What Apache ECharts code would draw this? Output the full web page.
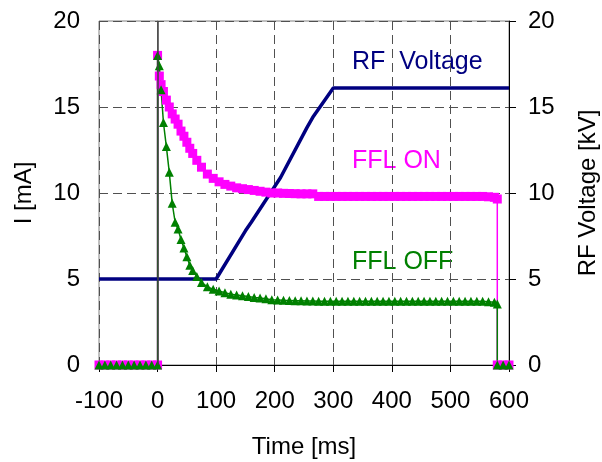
<!DOCTYPE html>
<html>
<head>
<meta charset="utf-8">
<script src="https://cdn.jsdelivr.net/npm/echarts@6/dist/echarts.min.js"></script>
<style>
  html, body { margin: 0; padding: 0; background: #fff; overflow: hidden; }
  #chart { width: 602px; height: 462px; }
</style>
</head>
<body>
<div id="chart"></div>
<script>
// time axis (ms) shared by the two current traces
var timeMs = [-100, -90, -80, -70, -60, -50, -40, -30, -20, -10, 0,
    0, 3, 6, 10, 15, 20, 25, 30, 35, 40, 45, 50, 55, 60, 67, 75,
    85, 95, 105, 115, 125, 135, 145, 155, 165, 175, 185, 195,
    205, 215, 225, 235, 245, 255, 265,
    275, 285, 295, 305, 315, 325, 335, 345, 355, 365, 375, 385, 395, 405, 415,
    425, 435, 445, 455, 465, 475, 485, 495, 505, 515, 525, 535, 545, 555, 565, 575,
    580, 580, 590, 600];

// FFL ON current [mA]
var fflOn = [0, 0, 0, 0, 0, 0, 0, 0, 0, 0, 0,
    18.0, 16.8, 16.3, 15.9, 15.4, 15.0, 14.6, 14.3, 14.0, 13.6, 13.3, 12.95, 12.6, 12.3, 11.9, 11.5,
    11.1, 10.85, 10.65, 10.5, 10.4, 10.3, 10.25, 10.2, 10.15, 10.1, 10.05, 10.0,
    10.0, 9.98, 9.97, 9.96, 9.95, 9.95, 9.95,
    9.8, 9.8, 9.8, 9.8, 9.8, 9.8, 9.8, 9.8, 9.8, 9.8, 9.8, 9.8, 9.8, 9.8, 9.8,
    9.8, 9.8, 9.8, 9.8, 9.8, 9.8, 9.8, 9.8, 9.8, 9.8, 9.8, 9.8, 9.8, 9.8, 9.78, 9.75,
    9.65, 0, 0, 0];

// FFL OFF current [mA]
var fflOff = [0, 0, 0, 0, 0, 0, 0, 0, 0, 0, 0,
    18.0, 17.4, 16.0, 14.1, 12.7, 11.2, 9.4, 8.3, 7.9, 7.3, 6.8, 6.3, 5.8, 5.5, 5.15, 4.8,
    4.55, 4.4, 4.3, 4.2, 4.12, 4.07, 4.02, 3.98, 3.93, 3.9, 3.85, 3.8,
    3.78, 3.76, 3.75, 3.74, 3.73, 3.72, 3.72,
    3.7, 3.7, 3.7, 3.7, 3.7, 3.7, 3.7, 3.7, 3.7, 3.7, 3.7, 3.7, 3.7, 3.7, 3.7,
    3.7, 3.7, 3.7, 3.7, 3.7, 3.7, 3.7, 3.7, 3.7, 3.7, 3.7, 3.7, 3.7, 3.7, 3.68, 3.65,
    3.55, 0, 0, 0];

// RF voltage [kV]
var rfTime = [-100, 100, 150, 160, 210, 255, 265, 300, 600];
var rfKv = [5, 5, 7.8, 8.3, 10.9, 13.8, 14.4, 16.1, 16.1];

var xTicks = [-100, 600, 100];   // min, max, interval
var yTicks = [0, 20, 5];

function pairs(xs, ys) {
    var out = [];
    for (var i = 0; i < xs.length; i++) out.push([xs[i], ys[i]]);
    return out;
}

var FONT = '"Liberation Sans", Arial, sans-serif';
var gridDash = { color: '#505050', type: [9, 5], width: 1 };

var chart = echarts.init(document.getElementById('chart'));

chart.setOption({
    animation: false,
    backgroundColor: '#fff',
    textStyle: { fontFamily: FONT },
    grid: {
        left: 99, right: 93, top: 21, bottom: 97,
        show: true, borderColor: '#808080', borderWidth: 1,
        containLabel: false,
        outerBoundsMode: 'none'   // v6 would otherwise shrink the grid to fit the right axis name
    },
    xAxis: {
        type: 'value',
        min: xTicks[0], max: xTicks[1], interval: xTicks[2],
        name: 'Time [ms]', nameLocation: 'middle', nameGap: 70,
        nameTextStyle: { fontSize: 24, color: '#000', fontFamily: FONT },
        axisLine: { show: true, lineStyle: { color: '#000', width: 1 } },
        axisTick: { show: true, length: 7, lineStyle: { color: '#000' } },
        axisLabel: { fontSize: 24, color: '#000', margin: 24, fontFamily: FONT },
        splitLine: { show: true, lineStyle: gridDash }
    },
    yAxis: [{
        type: 'value',
        min: yTicks[0], max: yTicks[1], interval: yTicks[2],
        name: 'I [mA]', nameLocation: 'middle', nameGap: 63,
        nameTextStyle: { fontSize: 24, color: '#000', fontFamily: FONT },
        axisLine: { show: true, lineStyle: { color: '#808080', width: 1 } },
        axisTick: { show: false },
        axisLabel: { fontSize: 24, color: '#000', margin: 19, fontFamily: FONT },
        splitLine: { show: true, lineStyle: gridDash }
    }, {
        type: 'value',
        position: 'right',
        min: yTicks[0], max: yTicks[1], interval: yTicks[2],
        name: 'RF Voltage [kV]', nameLocation: 'middle', nameGap: 67,
        nameTextStyle: { fontSize: 24, color: '#000', fontFamily: FONT },
        axisLine: { show: true, lineStyle: { color: '#000', width: 1 } },
        axisTick: { show: true, length: 7, lineStyle: { color: '#000' } },
        axisLabel: { fontSize: 24, color: '#000', margin: 19, fontFamily: FONT },
        splitLine: { show: false }
    }],
    series: [{
        name: 'FFL ON',
        type: 'line',
        data: pairs(timeMs, fflOn),
        symbol: 'rect',
        symbolSize: 9,
        showAllSymbol: true,
        itemStyle: { color: '#ff00ff' },
        lineStyle: { color: '#ff00ff', width: 1.5 },
        markLine: {
            silent: true,
            symbol: 'none',
            label: { show: false },
            lineStyle: { color: '#404040', type: 'solid', width: 1.5 },
            data: [{ xAxis: 0 }]
        }
    }, {
        name: 'FFL OFF',
        type: 'line',
        data: pairs(timeMs, fflOff),
        symbol: 'triangle',
        symbolSize: [9, 9],
        showAllSymbol: true,
        itemStyle: { color: '#008000' },
        lineStyle: { color: '#008000', width: 1.5 }
    }, {
        name: 'RF Voltage',
        type: 'line',
        yAxisIndex: 1,
        data: pairs(rfTime, rfKv),
        symbol: 'none',
        lineStyle: { color: '#000080', width: 3.5 }
    }],
    graphic: [{
        type: 'text', left: 352, top: 50,
        style: { text: 'RF  Voltage', fill: '#000080', font: '25px ' + FONT }
    }, {
        type: 'text', left: 352, top: 149,
        style: { text: 'FFL ON', fill: '#ff00ff', font: '25px ' + FONT }
    }, {
        type: 'text', left: 352, top: 250,
        style: { text: 'FFL OFF', fill: '#008000', font: '25px ' + FONT }
    }]
});
</script>
</body>
</html>
